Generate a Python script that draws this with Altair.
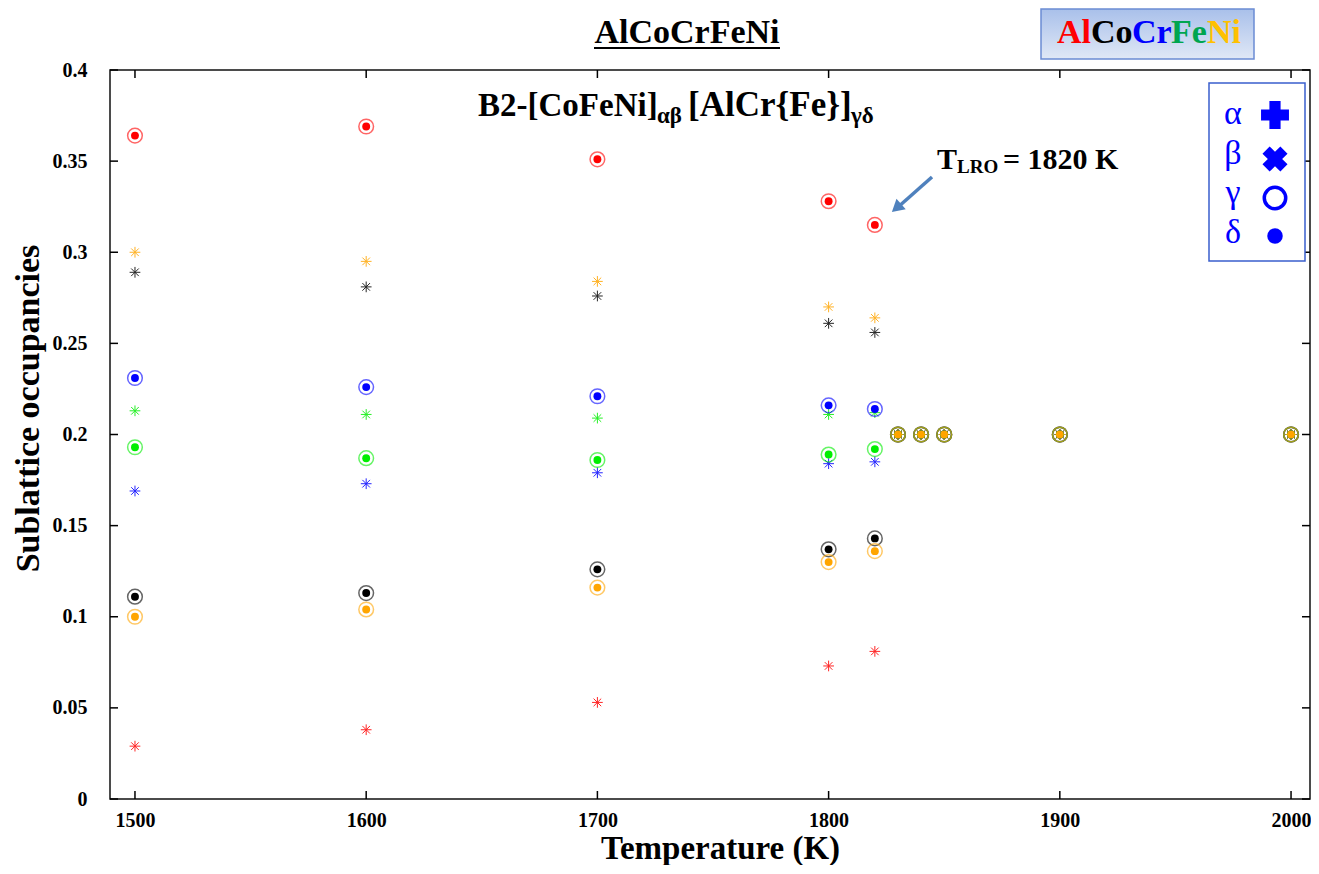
import altair as alt
import pandas as pd

# ---------------- data ----------------
temps_ordered = [1500, 1600, 1700, 1800, 1820]
temps_disordered = [1830, 1840, 1850, 1900, 2000]
elements = ["Al", "Co", "Cr", "Fe", "Ni"]
element_colors = ["#ff0000", "#000000", "#0000ff", "#00ee00", "#ffa500"]

# alpha-beta sublattice occupancies (asterisks), ordered B2 range
ab_Al = [0.029, 0.038, 0.053, 0.073, 0.081]
ab_Co = [0.289, 0.281, 0.276, 0.261, 0.256]
ab_Cr = [0.169, 0.173, 0.179, 0.184, 0.185]
ab_Fe = [0.213, 0.211, 0.209, 0.211, 0.212]
ab_Ni = [0.300, 0.295, 0.284, 0.270, 0.264]
# gamma-delta sublattice occupancies (ringed dots), ordered B2 range
gd_Al = [0.364, 0.369, 0.351, 0.328, 0.315]
gd_Co = [0.111, 0.113, 0.126, 0.137, 0.143]
gd_Cr = [0.231, 0.226, 0.221, 0.216, 0.214]
gd_Fe = [0.193, 0.187, 0.186, 0.189, 0.192]
gd_Ni = [0.100, 0.104, 0.116, 0.130, 0.136]
# disordered (above T_LRO) occupancies
disordered_occ = [0.200, 0.200, 0.200, 0.200, 0.200]

x_ticks = [1500, 1600, 1700, 1800, 1900, 2000]
y_ticks = [0, 0.05, 0.1, 0.15, 0.2, 0.25, 0.3, 0.35, 0.4]

ab = {"Al": ab_Al, "Co": ab_Co, "Cr": ab_Cr, "Fe": ab_Fe, "Ni": ab_Ni}
gd = {"Al": gd_Al, "Co": gd_Co, "Cr": gd_Cr, "Fe": gd_Fe, "Ni": gd_Ni}

rows = []
for e in elements:
    for T, v in zip(temps_ordered + temps_disordered, ab[e] + disordered_occ):
        rows.append({"T": T, "element": e, "sub": "ab", "occ": v})
for e in elements:
    for T, v in zip(temps_ordered + temps_disordered, gd[e] + disordered_occ):
        rows.append({"T": T, "element": e, "sub": "gd", "occ": v})
df = pd.DataFrame(rows)
df_ab = df[df["sub"] == "ab"]
df_gd = df[df["sub"] == "gd"]

# ---------------- layout ----------------
W, H = 1200, 729
TL = 8
FONT = "Liberation Serif"

xscale = alt.Scale(domain=[1489.2, 2008.2], nice=False, zero=False)
yscale = alt.Scale(domain=[0, 0.4], nice=False, zero=False)

xaxis = alt.Axis(values=x_ticks, format="d", title="Temperature (K)", ticks=False,
                 domain=False, grid=False, labelPadding=11, labelFontSize=20,
                 titleFontSize=33, titleX=610, titleY=59, titleBaseline="alphabetic",
                 titleAlign="center")
yaxis = alt.Axis(values=y_ticks, format="~g", title="Sublattice occupancies", ticks=False,
                 domain=False, grid=False, labelPadding=23, labelFontSize=20,
                 titleFontSize=34, titleX=-72, titleY=338, titleBaseline="alphabetic",
                 titleAlign="center", titleAngle=-90)


def X(f):
    return alt.X(f, type="quantitative", scale=xscale, axis=xaxis)


def Y(f):
    return alt.Y(f, type="quantitative", scale=yscale, axis=yaxis)


color = alt.Color("element:N", scale=alt.Scale(domain=elements, range=element_colors), legend=None)

xt = pd.DataFrame({"v": x_ticks})
yt = pd.DataFrame({"v": y_ticks})
one = pd.DataFrame({"k": [0]})

tick_left = alt.Chart(yt).mark_rule(color="black", strokeWidth=1.5).encode(
    y=Y("v"), x=alt.value(0), x2=alt.value(TL))
tick_right = alt.Chart(yt).mark_rule(color="black", strokeWidth=1.5).encode(
    y=Y("v"), x=alt.value(W - TL), x2=alt.value(W))
tick_bottom = alt.Chart(xt).mark_rule(color="black", strokeWidth=1.5).encode(
    x=X("v"), y=alt.value(H), y2=alt.value(H - TL))
tick_top = alt.Chart(xt).mark_rule(color="black", strokeWidth=1.5).encode(
    x=X("v"), y=alt.value(0), y2=alt.value(TL))

ASTER = "M-1,0L1,0M0,-1L0,1M-0.71,-0.71L0.71,0.71M-0.71,0.71L0.71,-0.71"

asterisks = alt.Chart(df_ab).mark_point(shape=ASTER, filled=False, size=115, strokeWidth=1,
                                        opacity=0.85).encode(x=X("T"), y=Y("occ"), color=color)
rings = alt.Chart(df_gd).mark_point(shape="circle", filled=False, size=215, strokeWidth=1.5,
                                    opacity=0.6).encode(x=X("T"), y=Y("occ"), color=color)
dots = alt.Chart(df_gd).mark_circle(size=62, opacity=1).encode(x=X("T"), y=Y("occ"), color=color)


def txt(s, x, y, size, color="black", weight="bold", align="left"):
    return alt.Chart(one).mark_text(text=s, fontSize=size, fontWeight=weight, color=color,
                                    align=align, baseline="alphabetic", font=FONT).encode(
        x=alt.value(x), y=alt.value(y))


# legend box
leg_box = alt.Chart(one).mark_rect(fill="white", stroke="#3a5fcd", strokeWidth=1.5).encode(
    x=alt.value(1099), x2=alt.value(1195), y=alt.value(13), y2=alt.value(191))
LB = "#0000ff"
leg_txt = [txt(g, 1123, yy, 34, LB, "normal", "center")
           for g, yy in zip(["α", "β", "γ", "δ"], [54, 94, 133, 173])]
leg_plus = alt.Chart(one).mark_point(shape="cross", filled=True, size=780, color=LB, opacity=1).encode(
    x=alt.value(1165), y=alt.value(45))
leg_x = alt.Chart(one).mark_point(shape="cross", filled=True, size=640, angle=45, color=LB, opacity=1).encode(
    x=alt.value(1165), y=alt.value(89))
leg_ring = alt.Chart(one).mark_point(shape="circle", filled=False, size=460, strokeWidth=3.5, color=LB,
                                     opacity=1).encode(x=alt.value(1165), y=alt.value(128))
leg_dot = alt.Chart(one).mark_circle(size=240, color=LB, opacity=1).encode(
    x=alt.value(1165), y=alt.value(166))

# subtitle with subscripts
sub_parts = [
    txt("B2-[CoFeNi]", 368, 46, 33),
    txt("αβ", 547, 53, 23),
    txt("[AlCr{Fe}]", 578, 46, 35),
    txt("γδ", 741, 53, 23),
]

# T_LRO annotation + arrow
ARROW = "#4f81bd"
ann = [
    txt("T", 827, 99, 30),
    txt("LRO", 847, 103, 19),
    txt("= 1820 K", 893, 99, 30),
]
arrow_line = alt.Chart(one).mark_rule(color=ARROW, strokeWidth=3.5).encode(
    x=alt.value(822), y=alt.value(107), x2=alt.value(787), y2=alt.value(138))
arrow_head = alt.Chart(one).mark_point(shape="triangle-up", filled=True, size=200, angle=229,
                                       color=ARROW, opacity=1).encode(
    x=alt.value(786.5), y=alt.value(138))

# main title (underlined)
title_txt = txt("AlCoCrFeNi", 577, -27, 34, align="center")
title_ul = alt.Chart(one).mark_rule(color="black", strokeWidth=2).encode(
    x=alt.value(484), x2=alt.value(670), y=alt.value(-22))

# top-right coloured box
grad = alt.LinearGradient(gradient="linear",
                          stops=[alt.GradientStop(color="#a9c0ea", offset=0),
                                 alt.GradientStop(color="#e0e8f6", offset=1)],
                          x1=0, x2=0, y1=0, y2=1)
top_box = alt.Chart(one).mark_rect(fill=grad, stroke="#6b8cd4", strokeWidth=1.5).encode(
    x=alt.value(931), x2=alt.value(1144), y=alt.value(-61), y2=alt.value(-11))
box_letters = ["Al", "Co", "Cr", "Fe", "Ni"]
box_colors = ["#ff0000", "#000000", "#0000ff", "#00a550", "#ffc000"]
box_x = [947, 981, 1022, 1061, 1097]
box_txt = [txt(s, xx, -27, 34, c) for s, c, xx in zip(box_letters, box_colors, box_x)]

layers = [tick_left, tick_right, tick_bottom, tick_top, asterisks, rings, dots,
          leg_box, *leg_txt, leg_plus, leg_x, leg_ring, leg_dot,
          *sub_parts, *ann, arrow_line, arrow_head, title_txt, title_ul, top_box, *box_txt]

chart = alt.layer(*layers).properties(
    width=W, height=H,
    autosize=alt.AutoSizeParams(type="none"),
    padding={"left": 102, "top": 62, "right": 1, "bottom": 66},
    background="white",
).configure_view(stroke="#111111", strokeWidth=1.5).configure_axis(
    labelFont=FONT, labelFontWeight="bold", labelColor="black",
    titleFont=FONT, titleFontWeight="bold", titleColor="black",
)

chart.save("out.html", embed_options={"renderer": "svg", "actions": False})
